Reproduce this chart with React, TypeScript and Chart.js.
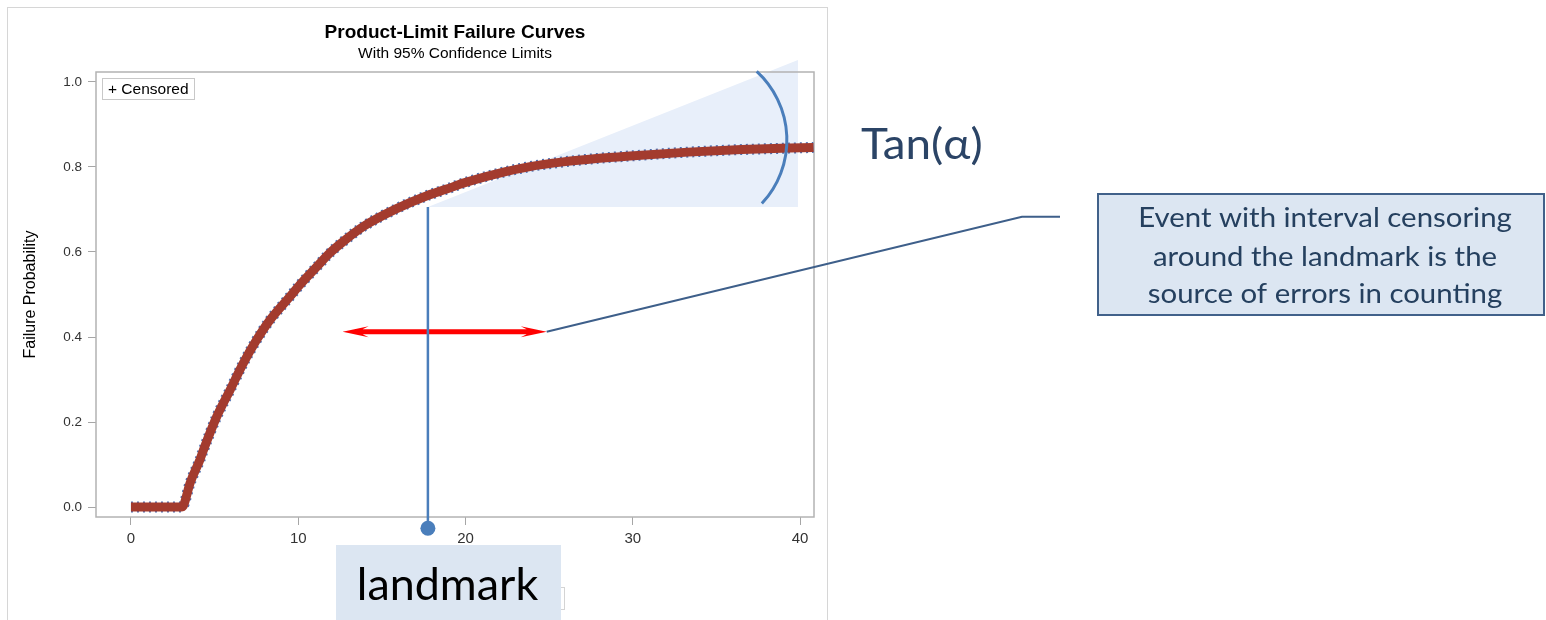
import React, { useEffect, useRef } from 'react';
import { Chart, registerables } from 'chart.js';

Chart.register(...registerables);

const CHART_TITLE = 'Product-Limit Failure Curves';
const CHART_SUBTITLE = 'With 95% Confidence Limits';
const Y_AXIS_TITLE = 'Failure Probability';
const LEGEND_LABEL = '+ Censored';

const TIME_VALUES = [0, 3.0, 3.13, 3.53, 4.12, 4.33, 5.12, 5.92, 6.71, 7.51, 8.31, 9.5, 10.1, 11.1, 11.9, 12.7, 13.89, 15.88, 17.73, 18.87, 19.86, 21.86, 23.85, 25.84, 27.84, 29.83, 33.3, 36.5, 40.8];
const FAILURE_VALUES = [0, 0, 0.003, 0.056, 0.111, 0.134, 0.212, 0.275, 0.338, 0.393, 0.44, 0.495, 0.523, 0.565, 0.598, 0.625, 0.66, 0.702, 0.733, 0.748, 0.762, 0.784, 0.801, 0.812, 0.82, 0.826, 0.835, 0.841, 0.846];

const X_TICKS = [0, 10, 20, 30, 40];
const Y_TICKS = [0, 0.2, 0.4, 0.6, 0.8, 1.0];

const X_MIN = -2.09;
const X_MAX = 40.83;
const Y_MIN = -0.0235;
const Y_MAX = 1.0235;

const LANDMARK_TIME = 17.75;
const LANDMARK_DOT_LEVEL = -0.05;
const CI_BASE_LEVEL = 0.706;
const CI_TOP_LEVEL = 1.052;
const CI_END_TIME = 39.87;
const ARROW_FROM_TIME = 12.65;
const ARROW_TO_TIME = 24.85;
const ARROW_LEVEL = 0.4125;
const ARC_CENTER_TIME = 33.65;
const ARC_CENTER_LEVEL = 0.8635;

const TAN_LABEL = 'Tan(α)';
const CALLOUT_LINES = ['Event with interval censoring', 'around the landmark is the', 'source of errors in counting'];
const LANDMARK_LABEL = 'landmark';

const SAS_FONT = "'Liberation Sans', Arial, sans-serif";
const SLIDE_FONT = "Lato, 'Noto Sans', 'DejaVu Sans', sans-serif";

function drawDoubleArrow(ctx: CanvasRenderingContext2D, x1: number, x2: number, yv: number) {
  const head = 26;
  const half = 5.5;
  const notch = 6;
  const shaft = 2.5;
  ctx.beginPath();
  ctx.moveTo(x1, yv);
  ctx.lineTo(x1 + head, yv - half);
  ctx.lineTo(x1 + head - notch, yv - shaft);
  ctx.lineTo(x2 - head + notch, yv - shaft);
  ctx.lineTo(x2 - head, yv - half);
  ctx.lineTo(x2, yv);
  ctx.lineTo(x2 - head, yv + half);
  ctx.lineTo(x2 - head + notch, yv + shaft);
  ctx.lineTo(x1 + head - notch, yv + shaft);
  ctx.lineTo(x1 + head, yv + half);
  ctx.closePath();
  ctx.fill();
}

function stretchedText(ctx: CanvasRenderingContext2D, text: string, cx: number, baseline: number, sx: number, align: CanvasTextAlign) {
  ctx.save();
  ctx.translate(cx, baseline);
  ctx.scale(sx, 1);
  ctx.textAlign = align;
  ctx.textBaseline = 'alphabetic';
  ctx.fillText(text, 0, 0);
  ctx.restore();
}

const slidePlugin = {
  id: 'slideAnnotations',
  beforeDraw(chart: any) {
    const ctx: CanvasRenderingContext2D = chart.ctx;
    ctx.save();
    ctx.fillStyle = '#ffffff';
    ctx.fillRect(0, 0, chart.width, chart.height);
    ctx.strokeStyle = '#D6D6D6';
    ctx.lineWidth = 1;
    ctx.strokeRect(7.5, 7.5, 820, 700);
    ctx.restore();
  },
  beforeDatasetsDraw(chart: any) {
    const ctx: CanvasRenderingContext2D = chart.ctx;
    const a = chart.chartArea;
    const x = chart.scales.x;
    const y = chart.scales.y;
    ctx.save();
    // confidence wedge
    ctx.fillStyle = '#E8EFFA';
    ctx.beginPath();
    ctx.moveTo(x.getPixelForValue(LANDMARK_TIME), y.getPixelForValue(CI_BASE_LEVEL));
    ctx.lineTo(x.getPixelForValue(CI_END_TIME), y.getPixelForValue(CI_TOP_LEVEL));
    ctx.lineTo(x.getPixelForValue(CI_END_TIME), y.getPixelForValue(CI_BASE_LEVEL));
    ctx.closePath();
    ctx.fill();
    // plot frame
    ctx.strokeStyle = '#B3B3B3';
    ctx.lineWidth = 1.5;
    ctx.strokeRect(a.left, a.top, a.right - a.left, a.bottom - a.top);
    // legend box
    const lx = a.left + 6;
    const ly = a.top + 6;
    ctx.fillStyle = '#ffffff';
    ctx.fillRect(lx, ly, 93, 22);
    ctx.strokeStyle = '#C8C8C8';
    ctx.lineWidth = 1;
    ctx.strokeRect(lx + 0.5, ly + 0.5, 92, 21);
    ctx.fillStyle = '#000000';
    ctx.font = `15.5px ${SAS_FONT}`;
    ctx.textAlign = 'left';
    ctx.textBaseline = 'middle';
    ctx.fillText(LEGEND_LABEL, lx + 6, ly + 11.5);
    ctx.restore();
  },
  afterDatasetsDraw(chart: any) {
    const ctx: CanvasRenderingContext2D = chart.ctx;
    const x = chart.scales.x;
    const y = chart.scales.y;
    ctx.save();
    // arc (tan alpha)
    ctx.strokeStyle = '#4A7EBB';
    ctx.lineWidth = 3;
    ctx.beginPath();
    ctx.arc(x.getPixelForValue(ARC_CENTER_TIME), y.getPixelForValue(ARC_CENTER_LEVEL), 93, (-47.5 * Math.PI) / 180, (43 * Math.PI) / 180);
    ctx.stroke();
    // red double arrow
    const ax1 = x.getPixelForValue(ARROW_FROM_TIME);
    const ax2 = x.getPixelForValue(ARROW_TO_TIME);
    const ay = y.getPixelForValue(ARROW_LEVEL);
    ctx.fillStyle = '#FF0000';
    drawDoubleArrow(ctx, ax1, ax2, ay);
    // connector to the callout
    ctx.strokeStyle = '#3E5F8A';
    ctx.lineWidth = 2;
    ctx.beginPath();
    ctx.moveTo(ax2, ay);
    ctx.lineTo(1022, 216.7);
    ctx.lineTo(1060, 216.7);
    ctx.stroke();
    // landmark line and dot
    const lmx = x.getPixelForValue(LANDMARK_TIME);
    const dotY = y.getPixelForValue(LANDMARK_DOT_LEVEL);
    ctx.strokeStyle = '#4A7EBB';
    ctx.lineWidth = 2.5;
    ctx.beginPath();
    ctx.moveTo(lmx, y.getPixelForValue(CI_BASE_LEVEL));
    ctx.lineTo(lmx, dotY);
    ctx.stroke();
    ctx.fillStyle = '#4A7EBB';
    ctx.beginPath();
    ctx.ellipse(lmx, dotY, 7.5, 7.5, 0, 0, Math.PI * 2);
    ctx.fill();
    ctx.restore();
  },
  afterDraw(chart: any) {
    const ctx: CanvasRenderingContext2D = chart.ctx;
    ctx.save();
    // Tan(alpha)
    ctx.fillStyle = '#2B4466';
    ctx.font = `42px ${SLIDE_FONT}`;
    stretchedText(ctx, TAN_LABEL, 861, 159, 1.09, 'left');
    // callout box
    ctx.fillStyle = '#DCE6F2';
    ctx.fillRect(1098, 194, 446, 121);
    ctx.strokeStyle = '#41618A';
    ctx.lineWidth = 2;
    ctx.strokeRect(1098, 194, 446, 121);
    ctx.fillStyle = '#25405F';
    ctx.font = `26px ${SLIDE_FONT}`;
    const baselines = [226.7, 265.7, 303.3];
    CALLOUT_LINES.forEach((line, i) => stretchedText(ctx, line, 1325, baselines[i], 1.13, 'center'));
    // faint box behind landmark label
    ctx.strokeStyle = '#D4D4D4';
    ctx.lineWidth = 1;
    ctx.strokeRect(470.5, 587.5, 94, 22);
    // landmark label box
    ctx.fillStyle = '#DCE6F2';
    ctx.fillRect(336, 545, 225, 80);
    ctx.fillStyle = '#000000';
    ctx.font = `44px ${SLIDE_FONT}`;
    stretchedText(ctx, LANDMARK_LABEL, 447.5, 600, 1.02, 'center');
    ctx.restore();
  },
};

export default function App() {
  const ref = useRef<HTMLCanvasElement>(null);

  useEffect(() => {
    const canvas = ref.current;
    if (!canvas) return;
    const points = TIME_VALUES.map((t, i) => ({ x: t, y: FAILURE_VALUES[i] }));
    const chart = new Chart(canvas, {
      type: 'scatter',
      data: {
        datasets: [
          {
            label: 'Censored (lower)',
            data: points,
            showLine: true,
            borderColor: '#4F6FB0',
            borderWidth: 11,
            borderDash: [2, 4],
            pointRadius: 0,
            cubicInterpolationMode: 'monotone',
            order: 2,
          },
          {
            label: 'Failure',
            data: points,
            showLine: true,
            borderColor: '#A33B2E',
            borderWidth: 9,
            pointRadius: 0,
            cubicInterpolationMode: 'monotone',
            order: 1,
          },
        ],
      },
      options: {
        responsive: false,
        animation: false,
        layout: { padding: { left: 8, right: 732, top: 0, bottom: 73 } },
        plugins: {
          legend: { display: false },
          tooltip: { enabled: false },
          title: {
            display: true,
            text: CHART_TITLE,
            fullSize: false,
            color: '#000000',
            font: { family: SAS_FONT, size: 19, weight: 'bold' },
            padding: { top: 21.5, bottom: 0 },
          },
          subtitle: {
            display: true,
            text: CHART_SUBTITLE,
            fullSize: false,
            color: '#000000',
            font: { family: SAS_FONT, size: 15.5 },
            padding: { top: 0, bottom: 9.1 },
          },
        },
        scales: {
          x: {
            type: 'linear',
            min: X_MIN,
            max: X_MAX,
            afterBuildTicks: (axis: any) => {
              axis.ticks = X_TICKS.map((v) => ({ value: v }));
            },
            afterFit: (s: any) => {
              s.height = 30;
            },
            border: { display: false },
            grid: { drawOnChartArea: false, drawTicks: true, tickLength: 8, tickColor: '#A6A6A6', color: '#A6A6A6' },
            ticks: { color: '#333333', padding: 5, font: { family: SAS_FONT, size: 15 }, maxRotation: 0 },
          },
          y: {
            type: 'linear',
            min: Y_MIN,
            max: Y_MAX,
            afterBuildTicks: (axis: any) => {
              axis.ticks = Y_TICKS.map((v) => ({ value: v }));
            },
            afterFit: (s: any) => {
              s.width = 88;
            },
            border: { display: false },
            grid: { drawOnChartArea: false, drawTicks: true, tickLength: 8, tickColor: '#A6A6A6', color: '#A6A6A6' },
            ticks: {
              color: '#333333',
              padding: 6,
              font: { family: SAS_FONT, size: 13.5 },
              callback: (v: any) => Number(v).toFixed(1),
            },
            title: {
              display: true,
              text: Y_AXIS_TITLE,
              color: '#000000',
              font: { family: SAS_FONT, size: 16 },
              padding: { top: 13, bottom: 0 },
            },
          },
        },
      },
      plugins: [slidePlugin],
    } as any);
    return () => chart.destroy();
  }, []);

  return (
    <div style={{ position: 'fixed', left: 0, top: 0, width: 1546, height: 620, background: '#ffffff' }}>
      <canvas ref={ref} width={1546} height={620} style={{ display: 'block', width: 1546, height: 620 }} />
    </div>
  );
}
